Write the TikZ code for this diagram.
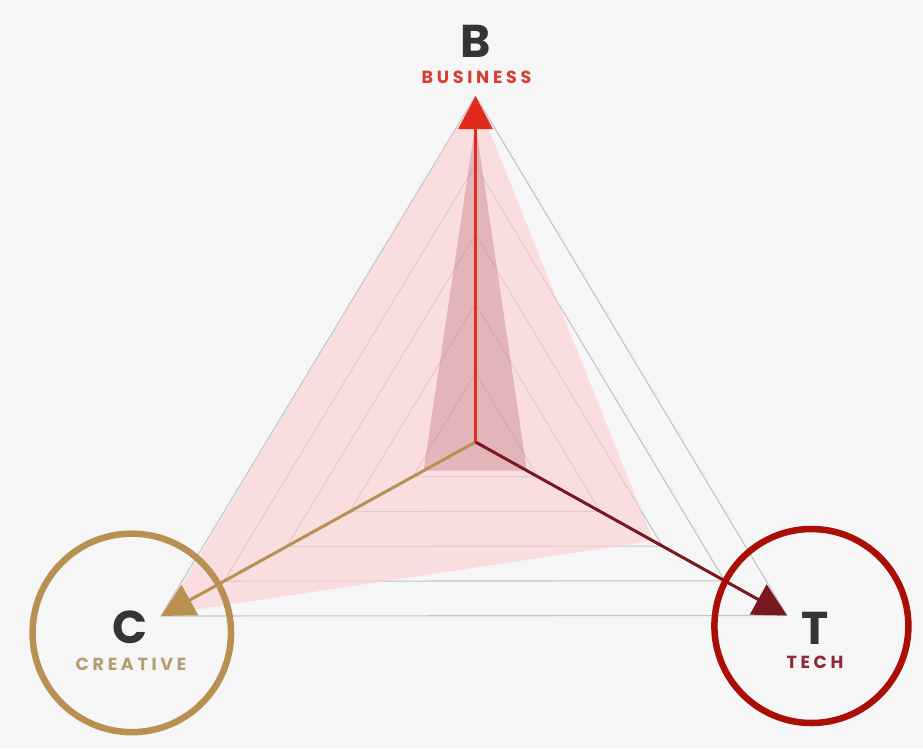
\documentclass[tikz,border=0pt]{standalone}
\usepackage{fontspec}
\usetikzlibrary{arrows.meta,calc}
\newfontfamily\bigletter{Poppins}
\newfontfamily\tagfont{Poppins}[LetterSpace=21]
\definecolor{bgcol}{RGB}{246,246,246}
\definecolor{gridcol}{RGB}{192,198,198}
\definecolor{pinkfill}{RGB}{252,206,209}
\definecolor{rosefill}{RGB}{170,80,90}
\definecolor{bizred}{RGB}{224,44,28}
\definecolor{cretan}{RGB}{183,144,82}
\definecolor{techred}{RGB}{122,24,34}
\definecolor{ringred}{RGB}{170,14,6}
\definecolor{ringtan}{RGB}{184,145,82}
\definecolor{lettergray}{RGB}{52,52,52}
\definecolor{biztext}{RGB}{214,62,52}
\definecolor{cretext}{RGB}{182,156,116}
\definecolor{techtext}{RGB}{140,40,56}
\begin{document}
\begin{tikzpicture}[x=1pt,y=-1pt,
  gridline/.style={draw=gridcol,line width=1.1pt,line join=round},
  outerfill/.style={fill=pinkfill,fill opacity=0.62},
  innerfill/.style={fill=rosefill,fill opacity=0.28},
  axisline/.style={line width=3pt,-{Triangle[length=33pt,width=34pt]}},
  letter/.style={font=\bigletter\bfseries\fontsize{46}{46}\selectfont,text=lettergray,anchor=base,inner sep=0pt,text depth=0pt},
  tag/.style={font=\tagfont\bfseries\fontsize{17.5}{17.5}\selectfont,anchor=base,inner sep=0pt,text depth=0pt},
  ring/.style={circle,draw,line width=6.5pt,inner sep=0pt}]
\fill[bgcol] (0,0) rectangle (923,748);
\useasboundingbox (0,0) rectangle (923,748);

% centre and the three axis ends
\coordinate (O) at (475.5,442);
\coordinate (Bv) at (475.5,96);
\coordinate (Cv) at (161,616);
\coordinate (Tv) at (787,615.5);

% nested reference triangles
\foreach \k in {0.2,0.4,0.6,0.8,1.0}
  \draw[gridline] ($(O)!\k!(Bv)$) -- ($(O)!\k!(Tv)$) -- ($(O)!\k!(Cv)$) -- cycle;

% profile areas
\fill[outerfill] ($(O)!1!(Bv)$) -- ($(O)!0.57!(Tv)$) -- ($(O)!0.99!(Cv)$) -- cycle;
\fill[innerfill] ($(O)!0.92!(Bv)$) -- ($(O)!0.165!(Tv)$) -- ($(O)!0.165!(Cv)$) -- cycle;

% axes
\draw[axisline,draw=cretan,fill=cretan] (O) -- (Cv);
\draw[axisline,draw=techred,fill=techred] (O) -- (Tv);
\draw[axisline,draw=bizred,fill=bizred] (O) -- (Bv);

% labels
\node[letter] (bl) at (475.5,57) {B};
\node[tag,text=biztext] (bt) at (476.5,83.5) {BUSINESS};
\node[letter] (cl) at (130,643) {C};
\node[tag,text=cretext] (ct) at (131,670) {CREATIVE};
\node[letter] (tl) at (815,644) {T};
\node[tag,text=techtext] (tt) at (815,668) {TECH};

% highlight rings
\node[ring,draw=ringtan,minimum size=198.5pt] (cring) at (131.8,632.9) {};
\node[ring,draw=ringred,minimum size=194pt] (tring) at (811.4,626) {};
\end{tikzpicture}
\end{document}
